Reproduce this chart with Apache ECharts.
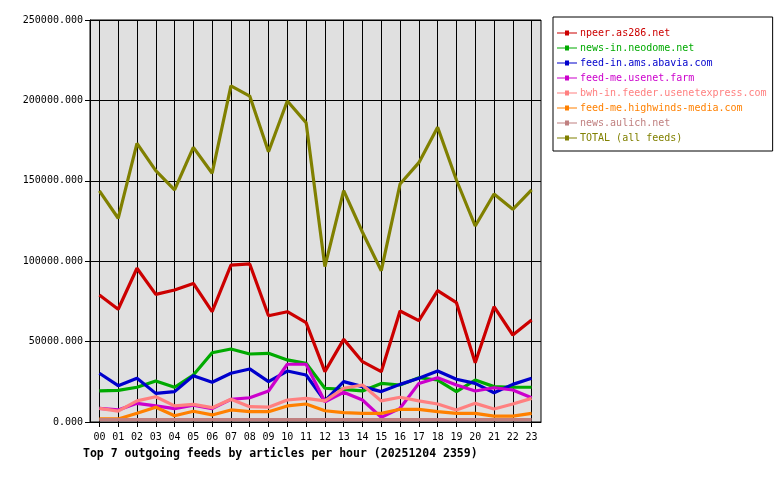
<!DOCTYPE html>
<html>
<head>
<meta charset="utf-8">
<title>Top 7 outgoing feeds</title>
<script src="https://cdn.jsdelivr.net/npm/echarts@6/dist/echarts.min.js"></script>
<style>
  html, body { margin: 0; padding: 0; background: #fff; }
  #chart { width: 780px; height: 480px; }
</style>
</head>
<body>
<div id="chart"></div>
<script>
// hours of the day
const hours = ['00','01','02','03','04','05','06','07','08','09','10','11',
               '12','13','14','15','16','17','18','19','20','21','22','23'];

// articles per hour
const npeer     = [79000, 70100, 95600, 79400, 82100, 86200, 68600, 97600, 98300, 66100, 68600, 61800,
                   31300, 51400, 37500, 31300, 69000, 63000, 81700, 74200, 36900, 71700, 54100, 63400];
const neodome   = [19300, 19700, 21600, 25500, 21600, 29200, 43100, 45400, 42300, 42700, 38600, 36500,
                   21000, 20300, 19300, 24000, 23000, 27500, 26100, 18900, 26100, 22000, 21600, 21600];
const abavia    = [30300, 22600, 27200, 17800, 18900, 28800, 24700, 30300, 33000, 25100, 31700, 29200,
                   13100, 25100, 22000, 18900, 23400, 27200, 31700, 26600, 24000, 18200, 23400, 27200];
const usenetFarm= [8500, 7500, 11600, 10000, 8300, 10400, 8300, 14100, 15100, 19300, 35900, 35900,
                   12600, 18500, 13700, 2900, 8500, 24000, 27500, 23000, 19300, 21300, 19900, 15100];
const usenetExp = [8500, 6800, 13100, 15700, 10000, 11000, 8900, 14100, 9500, 9200, 13700, 14700,
                   13100, 21000, 23000, 13100, 15400, 13100, 11200, 7500, 11600, 8100, 11200, 14700];
const highwinds = [1900, 1900, 5400, 9200, 3900, 6700, 4400, 7500, 6400, 6400, 10000, 11200,
                   7000, 5800, 5400, 5400, 7900, 7900, 6400, 5400, 5400, 3700, 3700, 5400];
const aulich    = [1500, 1500, 1500, 1500, 1500, 1500, 1500, 1500, 1500, 1500, 1500, 1500,
                   1500, 1500, 1500, 1500, 1500, 1500, 1500, 1500, 1500, 1500, 1500, 1500];
const total     = [143700, 126700, 173300, 156300, 144300, 170800, 154700, 209000, 202700, 168100, 199600, 186200,
                   96600, 143900, 118000, 94100, 148000, 161300, 183300, 150500, 121900, 141800, 132300, 144300];

const yTicks = [0, 50000, 100000, 150000, 200000, 250000];

const feeds = [
  { name: 'npeer.as286.net',                 color: '#cc0000', data: npeer },
  { name: 'news-in.neodome.net',             color: '#00aa00', data: neodome },
  { name: 'feed-in.ams.abavia.com',          color: '#0000cc', data: abavia },
  { name: 'feed-me.usenet.farm',             color: '#cc00cc', data: usenetFarm },
  { name: 'bwh-in.feeder.usenetexpress.com', color: '#ff8080', data: usenetExp },
  { name: 'feed-me.highwinds-media.com',     color: '#ff8000', data: highwinds },
  { name: 'news.aulich.net',                 color: '#c08080', data: aulich },
  { name: 'TOTAL (all feeds)',               color: '#808000', data: total }
];

const mono = "'DejaVu Sans Mono', monospace";
// thin line with a tiny square in the middle, like the original legend keys
const keyIcon = 'path://M0,2H8V0H12V2H20V3H12V5H8V3H0Z';

const chart = echarts.init(document.getElementById('chart'));

chart.setOption({
  animation: false,
  backgroundColor: '#ffffff',
  title: {
    text: 'Top 7 outgoing feeds by articles per hour (20251204 2359)',
    left: 78, top: 443,
    textStyle: { fontFamily: mono, fontSize: 11.5, fontWeight: 'bold', color: '#000' }
  },
  legend: {
    orient: 'vertical',
    left: 553, top: 17,
    padding: [11, 6, 8, 4],
    icon: keyIcon,
    itemWidth: 20, itemHeight: 5, itemGap: 5,
    backgroundColor: '#fff',
    borderColor: '#000', borderWidth: 1, borderRadius: 0,
    textStyle: { fontFamily: mono, fontSize: 10, lineHeight: 10, padding: [0, 0, 0, -2] },
    data: feeds.map(f => ({ name: f.name, textStyle: { color: f.color } }))
  },
  grid: {
    left: 90, right: 239, top: 20, bottom: 58,
    show: true, backgroundColor: '#e0e0e0',
    borderColor: '#000', borderWidth: 1
  },
  xAxis: [
    {
      // labels and short ticks under the axis
      type: 'category', data: hours, boundaryGap: true,
      axisLine: { show: true, lineStyle: { color: '#000' } },
      axisTick: { show: true, alignWithLabel: true, length: 5, lineStyle: { color: '#000' } },
      axisLabel: { fontFamily: mono, fontSize: 10, color: '#000', margin: 10, interval: 0 },
      splitLine: { show: false }
    },
    {
      // vertical grid lines through every hour
      type: 'category', data: hours, boundaryGap: true, position: 'bottom',
      axisLine: { show: false },
      axisTick: { show: true, alignWithLabel: true, inside: true, length: 402, lineStyle: { color: '#000' } },
      axisLabel: { show: false },
      splitLine: { show: false }
    }
  ],
  yAxis: {
    type: 'value', min: 0, max: 250000, interval: 50000,
    axisLine: { show: true, lineStyle: { color: '#000' } },
    axisTick: { show: true, length: 5, lineStyle: { color: '#000' } },
    axisLabel: {
      fontFamily: mono, fontSize: 10, color: '#000', margin: 7,
      formatter: v => yTicks.includes(v) ? v.toFixed(3) : ''
    },
    splitLine: { show: true, lineStyle: { color: '#000', width: 1 } }
  },
  series: feeds.map(f => ({
    name: f.name,
    type: 'line',
    data: f.data,
    color: f.color,
    symbol: 'none',
    lineStyle: { width: 3.2, color: f.color },
    emphasis: { disabled: true }
  }))
});
</script>
</body>
</html>
